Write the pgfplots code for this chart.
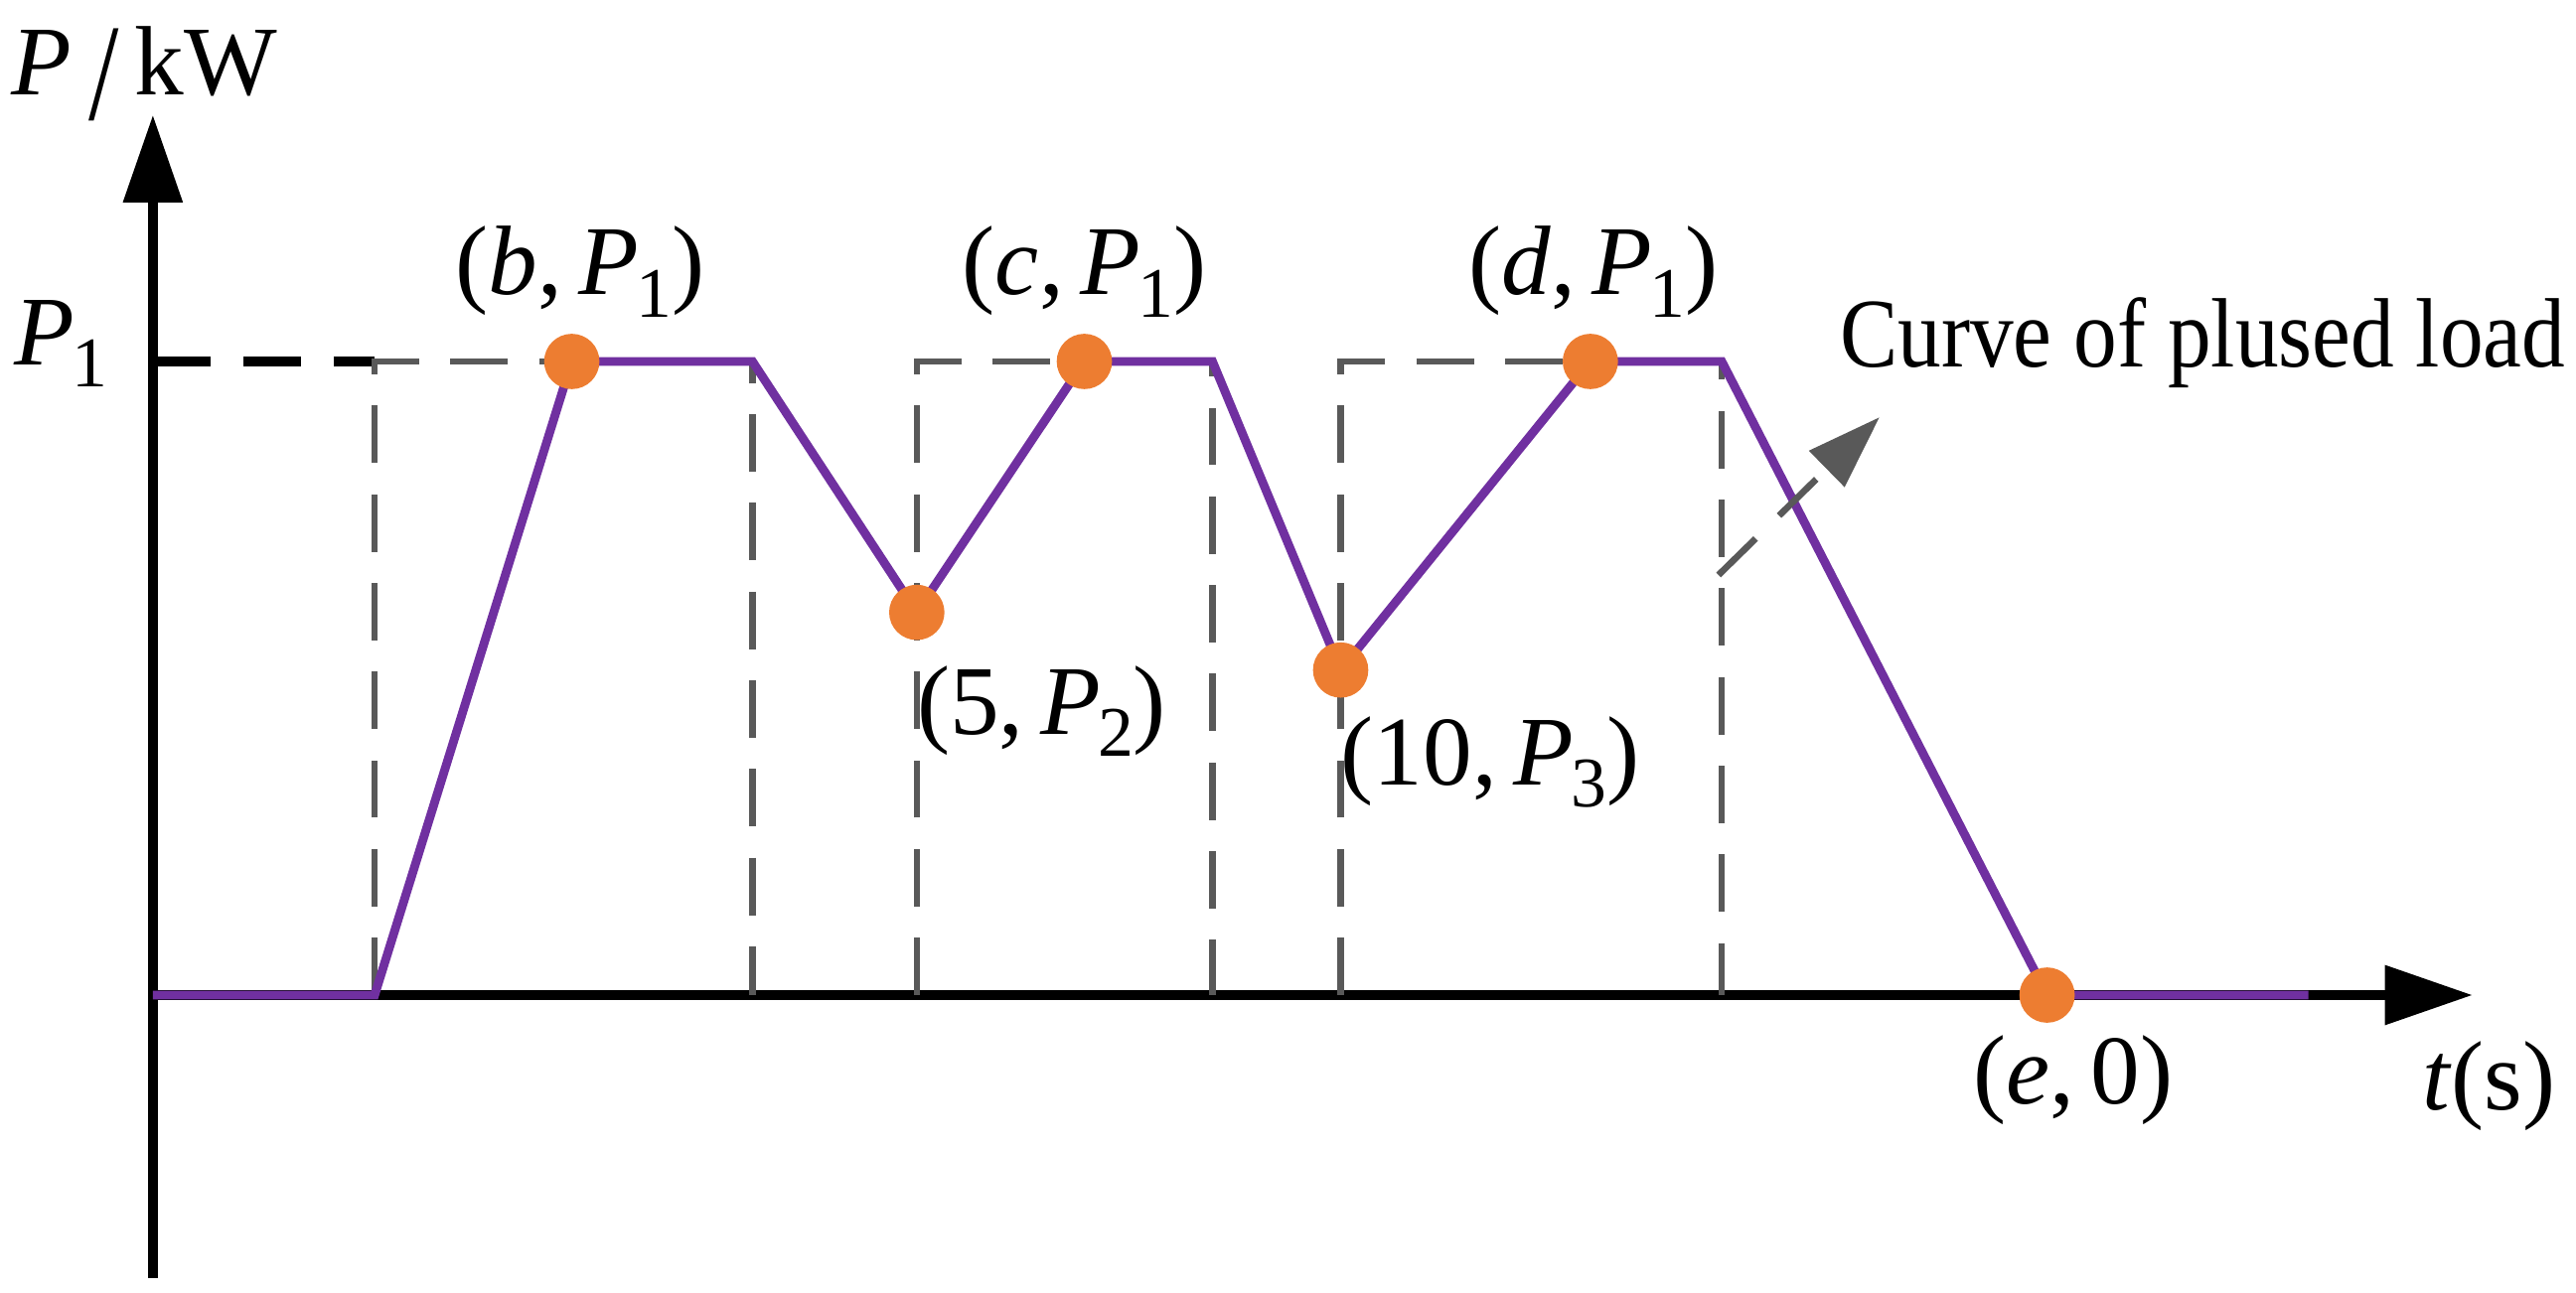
\documentclass[border=0pt]{standalone}
\usepackage{graphicx}
\usepackage{pgfplots}
\pgfplotsset{compat=1.18}
\usepackage{fontspec}
\setmainfont{Liberation Serif}
\usetikzlibrary{arrows.meta}

\definecolor{curvepurple}{HTML}{7030A0}
\definecolor{dotorange}{HTML}{ED7D31}
\definecolor{boxgray}{HTML}{595959}
\tikzset{lbl/.style={font=\fontsize{18}{21}\selectfont, anchor=base, inner sep=0pt}}
% low, fairly large subscript as in the original labels
\newcommand\sub[1]{\kern-0.5pt\raisebox{-4pt}{\fontsize{13}{13}\selectfont #1}}

\begin{document}
\begin{tikzpicture}
\begin{axis}[
    scale only axis,
    width=423.6pt, height=212.4pt,
    xmin=0, xmax=1412, ymin=-0.446, ymax=1.389,
    axis lines=middle,
    axis line style={line width=1.8pt, -{Triangle[length=16pt,width=10.5pt]}},
    xtick=\empty, ytick=\empty,
    clip=false,
]
% frame of the page
\path (rel axis cs:-0.0659,-0.0127) rectangle (rel axis cs:1.0446,1.0989);

% dashed guide boxes
\addplot[black, line width=1.7pt, dash pattern=on 10.5pt off 6pt] coordinates {(0,1) (135,1)};
\addplot[boxgray, line width=1.1pt, dash pattern=on 10.5pt off 5.7pt] coordinates {(135,0) (135,1) (365,1) (365,0)};
\addplot[boxgray, line width=1.1pt, dash pattern=on 10.5pt off 5.7pt] coordinates {(465,0) (465,1) (645,1) (645,0)};
\addplot[boxgray, line width=1.1pt, dash pattern=on 10.5pt off 5.7pt] coordinates {(723,0) (723,1) (955,1) (955,0)};

% pulsed load curve
\addplot[curvepurple, line width=1.6pt] coordinates {
    (0,0) (135,0) (255,1) (365,1) (465,0.604) (567,1) (645,1)
    (723,0.513) (875,1) (955,1) (1153,0) (1312,0)};
\addplot[only marks, mark=*, mark size=4.85pt, dotorange] coordinates {
    (255,1) (465,0.604) (567,1) (723,0.513) (875,1) (1153,0)};

% annotation arrow
\draw[boxgray, line width=1.2pt, dash pattern=on 9.5pt off 6pt, -{Triangle[length=13.5pt,width=9pt]}]
    (axis cs:953,0.663) -- (axis cs:1051,0.912);

% labels
\node[lbl] at (axis cs:-5,1.420) {\textit{P}\,\raisebox{-4.5pt}{\scalebox{1.1}[1.4]{/}}\,kW};
\node[lbl, anchor=base west] at (axis cs:-85,0.995) {\textit{P}\sub{1}};
\node[lbl] at (axis cs:260,1.105) {(\textit{b},\thinspace\textit{P}\sub{1})};
\node[lbl] at (axis cs:567,1.105) {(\textit{c},\thinspace\textit{P}\sub{1})};
\node[lbl] at (axis cs:877,1.105) {(\textit{d},\thinspace\textit{P}\sub{1})};
\node[lbl] at (axis cs:541,0.412) {(5,\thinspace\textit{P}\sub{2})};
\node[lbl] at (axis cs:814,0.332) {(10,\thinspace\textit{P}\sub{3})};
\node[lbl] at (axis cs:1169,-0.171) {(\textit{e},\thinspace0)};
\node[lbl] at (axis cs:1422,-0.181) {\textit{t}(s)};
\node[font=\fontsize{18}{21}\selectfont, xscale=0.88, anchor=base east, inner sep=0pt] at (axis cs:1469,0.992) {Curve of plused load};
\end{axis}
\end{tikzpicture}
\end{document}
